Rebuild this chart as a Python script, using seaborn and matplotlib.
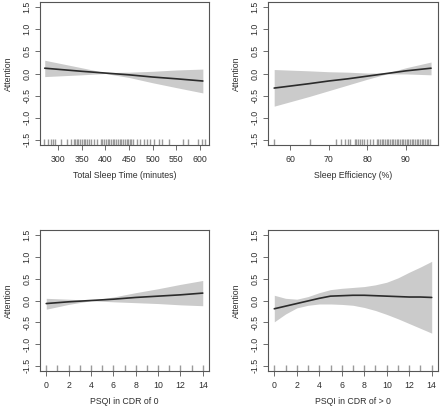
import numpy as np
import pandas as pd
import matplotlib
matplotlib.use('Agg')
import matplotlib.pyplot as plt
import seaborn as sns

sns.set_style('white')
plt.rcParams['font.family'] = ['Liberation Sans', 'DejaVu Sans']

# panel 1: total sleep time
tst_x = [272, 350, 400, 450, 500, 550, 606]
tst_fit = [0.12, 0.05, 0.01, -0.03, -0.08, -0.12, -0.17]
tst_lo = [-0.07, -0.03, 0.00, -0.09, -0.21, -0.32, -0.44]
tst_hi = [0.30, 0.13, 0.02, 0.03, 0.05, 0.08, 0.10]
tst_rug = [271, 278, 286, 289, 294, 307, 318, 327, 333, 336, 340, 343, 347, 351,
           354, 358, 361, 365, 369, 376, 383, 390, 394, 398, 401, 405, 408, 412,
           416, 419, 423, 427, 430, 434, 437, 441, 445, 448, 452, 455, 459, 466,
           474, 481, 488, 495, 502, 513, 520, 535, 564, 575, 596, 604, 611]

# panel 2: sleep efficiency
se_x = [55.9, 65, 70, 75, 80, 85, 90, 96.5]
se_fit = [-0.33, -0.23, -0.17, -0.12, -0.06, 0.0, 0.06, 0.12]
se_lo = [-0.74, -0.52, -0.39, -0.26, -0.13, -0.01, -0.01, -0.03]
se_hi = [0.09, 0.06, 0.04, 0.03, 0.01, 0.01, 0.13, 0.26]
se_rug = [55.8, 65.2, 72.0, 73.3, 74.3, 75.0, 75.4, 76.7, 77.2, 77.6, 78.0, 78.5,
          79.2, 79.8, 80.6, 81.5, 82.4, 82.8, 83.2, 83.7, 84.1, 84.5, 85.0, 85.4,
          85.8, 86.3, 86.7, 87.1, 87.6, 88.0, 88.4, 88.9, 89.3, 89.7, 90.2, 90.6,
          91.0, 91.5, 91.9, 92.4, 92.8, 93.2, 93.7, 94.1, 94.5, 95.0, 95.4, 95.8, 96.3]

# panel 3: PSQI, CDR 0
p0_x = [0, 2, 4, 6, 8, 10, 12, 14]
p0_fit = [-0.07, -0.03, 0.0, 0.03, 0.07, 0.10, 0.13, 0.17]
p0_lo = [-0.20, -0.09, -0.005, -0.03, -0.05, -0.07, -0.10, -0.12]
p0_hi = [0.05, 0.03, 0.005, 0.08, 0.18, 0.27, 0.37, 0.46]

# panel 4: PSQI, CDR > 0
p1_x = [0, 1, 2, 3, 4, 5, 6, 7, 8, 9, 10, 11, 12, 13, 14]
p1_fit = [-0.19, -0.13, -0.07, -0.01, 0.05, 0.10, 0.11, 0.12, 0.12, 0.11, 0.10, 0.09, 0.08, 0.08, 0.07]
p1_lo = [-0.49, -0.31, -0.17, -0.11, -0.08, -0.08, -0.09, -0.11, -0.16, -0.23, -0.32, -0.42, -0.53, -0.64, -0.75]
p1_hi = [0.12, 0.05, 0.03, 0.09, 0.18, 0.25, 0.28, 0.30, 0.32, 0.36, 0.42, 0.52, 0.65, 0.77, 0.90]
psqi_rug = list(range(15))

panels = [
    (tst_x, tst_fit, tst_lo, tst_hi, tst_rug, 'Total Sleep Time (minutes)', [300, 350, 400, 450, 500, 550, 600], (262, 619)),
    (se_x, se_fit, se_lo, se_hi, se_rug, 'Sleep Efficiency (%)', [60, 70, 80, 90], (54.3, 98.3)),
    (p0_x, p0_fit, p0_lo, p0_hi, psqi_rug, 'PSQI in CDR of 0', list(range(0, 15, 2)), (-0.56, 14.56)),
    (p1_x, p1_fit, p1_lo, p1_hi, psqi_rug, 'PSQI in CDR of > 0', list(range(0, 15, 2)), (-0.56, 14.56)),
]

W, H = 440, 409
boxes = [(40, 209, 2, 145), (268, 438, 2, 145), (40, 209, 230, 371), (268, 438, 230, 371)]

fig = plt.figure(figsize=(W / 100, H / 100), dpi=100)
fs = 6.3
txt = '#2e2e2e'
edge = '#555555'
for (x, fit, lo, hi, rug, xlabel, xt, xl), (l, r, t, b) in zip(panels, boxes):
    ax = fig.add_axes([l / W, 1 - b / H, (r - l) / W, (b - t) / H])
    ax.fill_between(x, lo, hi, color='#cbcbcb', lw=0)
    df = pd.DataFrame({'x': x, 'y': fit})
    sns.lineplot(data=df, x='x', y='y', color='#2b2b2b', lw=1.2, ax=ax)
    sns.rugplot(x=rug, height=0.04, color='#9a9a9a', lw=0.5, ax=ax)
    ax.set_xlim(*xl)
    ax.set_ylim(-1.62, 1.62)
    ax.set_xticks(xt)
    ax.set_xticklabels([str(v) for v in xt], fontsize=fs, color=txt)
    yt = [-1.5, -1.0, -0.5, 0.0, 0.5, 1.0, 1.5]
    ax.set_yticks(yt)
    ax.set_yticklabels(['%.1f' % v for v in yt], fontsize=fs, color=txt, rotation=90, va='center')
    ax.tick_params(axis='x', direction='out', length=3.5, width=0.6, color=edge, pad=4, bottom=True)
    ax.tick_params(axis='y', direction='out', length=3.5, width=0.6, color=edge, pad=2.5, left=True)
    ax.set_xlabel(xlabel, fontsize=fs, color=txt, labelpad=5)
    ax.set_ylabel('Attention', fontsize=fs, color=txt, labelpad=7)
    for s in ax.spines.values():
        s.set_color(edge)
        s.set_linewidth(0.8)
        s.set_visible(True)

fig.savefig('out.png', dpi=100)
